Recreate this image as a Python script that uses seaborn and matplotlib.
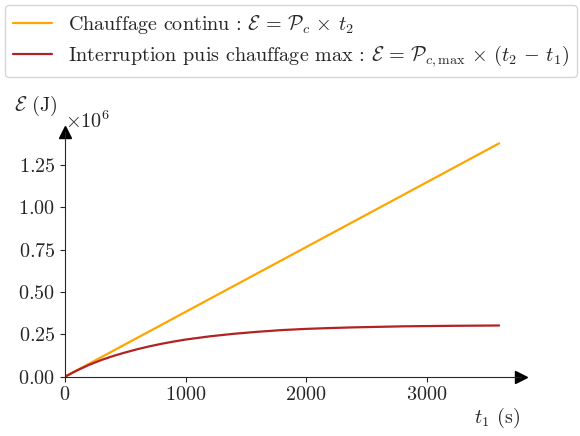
import numpy as np
import pandas as pd
import matplotlib
matplotlib.use("Agg")
import matplotlib.pyplot as plt
import seaborn as sns

# Data (energies in J)
t_cont = [0, 3600]
E_cont = [0.0, 1.376e6]

t_int = [0, 100, 200, 300, 400, 500, 600, 700, 800, 900, 1000, 1200, 1400,
         1600, 1800, 2000, 2200, 2400, 2800, 3200, 3600]
E_int = [0.0, 0.037e6, 0.070e6, 0.098e6, 0.122e6, 0.143e6, 0.162e6, 0.179e6,
         0.194e6, 0.207e6, 0.219e6, 0.238e6, 0.253e6, 0.265e6, 0.275e6,
         0.282e6, 0.287e6, 0.291e6, 0.297e6, 0.300e6, 0.302e6]

label_cont = r"Chauffage continu : $\mathcal{E}\,=\,\mathcal{P}_c\,\times\,t_2$"
label_int = (r"Interruption puis chauffage max : "
             r"$\mathcal{E}\,=\,\mathcal{P}_{c,\mathrm{max}}\,\times\,(t_2\,-\,t_1)$")

FS = 14.5

sns.set_style("ticks")
plt.rcParams["font.family"] = "serif"
plt.rcParams["font.serif"] = ["cmr10"]
plt.rcParams["mathtext.fontset"] = "cm"
plt.rcParams["axes.formatter.use_mathtext"] = True
plt.rcParams["axes.unicode_minus"] = False
plt.rcParams["font.size"] = FS

fig = plt.figure(figsize=(5.8, 4.36), dpi=100)
ax = fig.add_axes([0.112, 0.136, 0.786, 0.562])

df_c = pd.DataFrame({"t": t_cont, "E": E_cont})
df_i = pd.DataFrame({"t": t_int, "E": E_int})
sns.lineplot(data=df_c, x="t", y="E", ax=ax, color="orange", lw=1.6, label=label_cont)
sns.lineplot(data=df_i, x="t", y="E", ax=ax, color="firebrick", lw=1.6, label=label_int)

ax.set_xlim(0, 3600 * 1.05)
ax.set_ylim(0, max(E_cont) * 1.05)
ax.set_xticks([0, 1000, 2000, 3000])
ax.set_yticks([0, 0.25e6, 0.5e6, 0.75e6, 1.0e6, 1.25e6])
ax.ticklabel_format(axis="y", style="sci", scilimits=(6, 6), useMathText=True)
ax.spines["top"].set_visible(False)
ax.spines["right"].set_visible(False)
ax.plot(1, 0, ">k", transform=ax.get_yaxis_transform(), clip_on=False, ms=8)
ax.plot(0, 1, "^k", transform=ax.get_xaxis_transform(), clip_on=False, ms=8)
ax.set_xlabel("")
ax.set_ylabel("")
ax.tick_params(labelsize=FS)
ax.yaxis.get_offset_text().set_fontsize(FS)

fig.text(0.025, 0.745, r"$\mathcal{E}$ (J)", fontsize=FS, ha="left", va="baseline")
fig.text(0.897, 0.03, r"$t_1$ (s)", fontsize=FS, ha="right", va="baseline")

h, l = ax.get_legend_handles_labels()
ax.get_legend().remove()
fig.legend(h, l, loc="upper left", bbox_to_anchor=(0.002, 0.998), fontsize=FS,
           frameon=True, borderaxespad=0.2, labelspacing=0.35, handlelength=1.9)

fig.savefig("out.png", dpi=100)
